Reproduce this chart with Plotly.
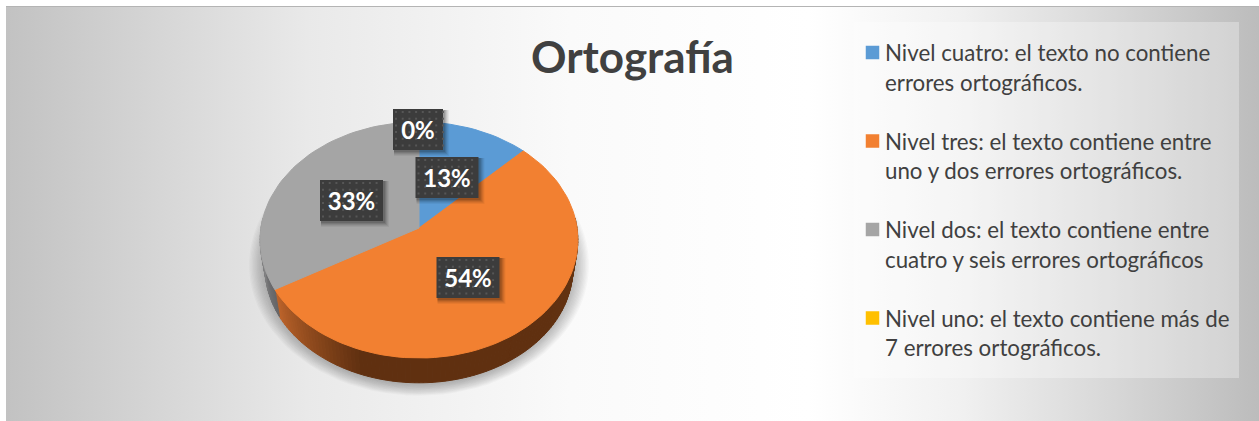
import base64
import math
import plotly.graph_objects as go

# ---- data ----
TITLE = "Ortografía"
categories = [
    ["Nivel cuatro: el texto no contiene", "errores ortográficos."],
    ["Nivel tres: el texto contiene entre", "uno y dos errores ortográficos."],
    ["Nivel dos: el texto contiene entre", "cuatro y seis errores ortográficos"],
    ["Nivel uno: el texto contiene más de", "7 errores ortográficos."],
]
values = [3, 13, 8, 0]
colors = ["#5b9bd5", "#f28031", "#a5a5a5", "#ffc000"]
label_boxes = [(447, 177.5), (468, 277.5), (351.5, 200.5), (418, 129.5)]

W, H = 1259, 421
FONT = "Lato"
CX, CY = 419, 228
R, S, K = 158, 116.8, 0.1017
RB, SB, CYB = 153, 113, 257


def top_pt(t):
    u, v = math.sin(t), math.cos(t)
    w = 1 + K * v
    return CX + R * u / w, CY - S * v / w


def bot_pt(t):
    u, v = math.sin(t), math.cos(t)
    w = 1 + K * v
    return CX + RB * u / w, CYB - SB * v / w


def mix(a, b, f):
    return "#" + "".join(f"{round(x + (y - x) * f):02x}" for x, y in zip(a, b))


traces = []


def poly(xs, ys, fill, line=False):
    traces.append(go.Scatter(x=xs + xs[:1], y=ys + ys[:1], mode="lines", fill="toself",
                             fillcolor=fill, line=dict(color=fill, width=1 if line else 0),
                             hoverinfo="skip", showlegend=False))


# soft shadow below the pie
for d in range(13, 0, -1):
    n = 90
    ang = [2 * math.pi * i / n for i in range(n)]
    xs = [CX + (RB + d * 1.3) * math.sin(a) for a in ang]
    ys = [CYB + 8 - (SB + 6 + d * 0.9) * math.cos(a) for a in ang]
    poly(xs, ys, "rgba(70,70,70,0.03)")

# cumulative slice angles
total = sum(values)
edges = [0.0]
for v in values:
    edges.append(edges[-1] + v / total * 2 * math.pi)

# side wall
n_side = 130
a0, a1 = math.radians(85), math.radians(275)
split = math.degrees(edges[2])
for i in range(n_side):
    t0 = a0 + (a1 - a0) * i / n_side
    t1 = a0 + (a1 - a0) * (i + 1) / n_side
    tm = (t0 + t1) / 2
    deg = math.degrees(tm)
    if tm < edges[2]:
        if deg > 200:
            col = mix((96, 48, 16), (190, 100, 42), (deg - 200) / (split - 200))
        else:
            col = mix((96, 48, 16), (104, 56, 20), max(0, (130 - deg) / 45))
    else:
        col = mix((100, 100, 102), (150, 150, 150), (deg - split) / 35)
    p = [top_pt(t0), top_pt(t1), bot_pt(t1), bot_pt(t0)]
    poly([q[0] for q in p], [q[1] for q in p], col, line=True)

# top face
for i, v in enumerate(values):
    if v == 0:
        continue
    steps = max(8, int(v / total * 150))
    arc = [top_pt(edges[i] + (edges[i + 1] - edges[i]) * j / steps) for j in range(steps + 1)]
    poly([CX] + [q[0] for q in arc], [CY] + [q[1] for q in arc], colors[i], line=True)

# data labels: box, shadow, dot texture, text
BW, BH = 63, 41
for (bx, by), v in zip(label_boxes, values):
    pct = math.floor(v / total * 100 + 0.5)
    bw = 50 if v == 0 else BW
    for s, a in ((6, 0.05), (5, 0.06), (4, 0.08), (3, 0.1), (2, 0.12)):
        x0, x1, y0, y1 = bx - bw / 2 + 1, bx + bw / 2 + s, by - BH / 2 + 1, by + BH / 2 + s
        poly([x0, x1, x1, x0], [y0, y0, y1, y1], f"rgba(0,0,0,{a})")
    x0, x1, y0, y1 = bx - bw / 2, bx + bw / 2, by - BH / 2, by + BH / 2
    poly([x0, x1, x1, x0], [y0, y0, y1, y1], "#3c3c3c")
    dx, dy = [], []
    yy = y0 + 3
    while yy < y1:
        xx = x0 + 3
        while xx < x1:
            dx.append(xx)
            dy.append(yy)
            xx += 6.7
        yy += 6.7
    traces.append(go.Scatter(x=dx, y=dy, mode="markers", hoverinfo="skip", showlegend=False,
                             marker=dict(symbol="square", size=2, color="#565656", line=dict(width=0))))
    traces.append(go.Scatter(x=[bx], y=[by + 3], mode="text", text=[f"{pct}%"], hoverinfo="skip", showlegend=False,
                             textposition="middle center",
                             textfont=dict(family=FONT, size=24, color="white", weight="bold")))

# legend panel
poly([854, 1239, 1239, 854], [22, 22, 378, 378], "rgba(255,255,255,0.3)")

annotations = [dict(x=632.5, y=56, xref="x", yref="y", text=f"<b>{TITLE}</b>", showarrow=False,
                    xanchor="center", yanchor="middle",
                    font=dict(family=FONT, size=44, color="#404040"))]
LEG_Y = [52.5, 141, 229.5, 318]
LINE = 29.5
traces.append(go.Scatter(x=[872.5] * 4, y=LEG_Y, mode="markers", hoverinfo="skip", showlegend=False,
                         marker=dict(symbol="square", size=13.5, color=colors, line=dict(width=0))))
for lines, y in zip(categories, LEG_Y):
    for j, line in enumerate(lines):
        annotations.append(dict(x=885, y=y + j * LINE, xref="x", yref="y", text=line, showarrow=False,
                                xanchor="left", yanchor="middle", xshift=-2,
                                font=dict(family=FONT, size=22.3, color="#404040")))

# background
svg = f'''<svg xmlns="http://www.w3.org/2000/svg" width="{W}" height="{H}">
<defs><linearGradient id="g" x1="0" y1="0" x2="1" y2="0">
<stop offset="0" stop-color="#c2c2c2"/><stop offset="0.08" stop-color="#cfcfcf"/>
<stop offset="0.24" stop-color="#e9e9e9"/><stop offset="0.45" stop-color="#fafafa"/>
<stop offset="0.64" stop-color="#ffffff"/><stop offset="0.76" stop-color="#f1f1f1"/>
<stop offset="0.88" stop-color="#d8d8d8"/><stop offset="1" stop-color="#bcbcbc"/>
</linearGradient></defs>
<rect x="0" y="0" width="{W}" height="{H}" fill="#ffffff"/>
<rect x="6" y="6" width="{W-6}" height="{H-6}" fill="url(#g)"/>
<rect x="6" y="6" width="{W-6}" height="1" fill="#b4b4b4"/>
</svg>'''
src = "data:image/svg+xml;base64," + base64.b64encode(svg.encode()).decode()

fig = go.Figure(traces)
fig.update_layout(
    width=W, height=H, autosize=False,
    margin=dict(l=0, r=0, t=0, b=0), paper_bgcolor="white", plot_bgcolor="rgba(0,0,0,0)",
    showlegend=False, annotations=annotations,
    xaxis=dict(range=[0, W], visible=False, fixedrange=True),
    yaxis=dict(range=[H, 0], visible=False, fixedrange=True),
    images=[dict(source=src, xref="paper", yref="paper", x=0, y=1, sizex=1, sizey=1,
                 sizing="stretch", xanchor="left", yanchor="top", layer="below")],
)
fig.write_html("out.html", config={"displayModeBar": False},
               post_script="document.body.style.margin='0';document.body.style.overflow='hidden';")
